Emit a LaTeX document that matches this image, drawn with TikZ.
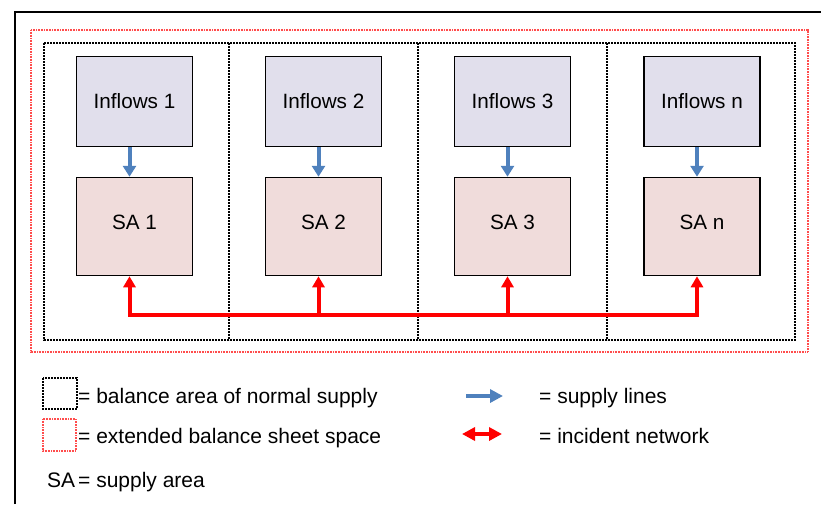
\documentclass[tikz,border=0pt]{standalone}
\usepackage{fontspec}
\setmainfont{Liberation Sans}
\usetikzlibrary{arrows.meta}
\definecolor{inflowfill}{RGB}{225,223,236}
\definecolor{safill}{RGB}{240,220,219}
\definecolor{supplyblue}{RGB}{79,129,189}
\tikzset{
  txt/.style={font=\fontsize{20.7}{24}\selectfont},
  inbox/.style={draw=black, line width=1.5pt, fill=inflowfill, minimum width=116pt, minimum height=90pt, inner sep=0pt, txt},
  sabox/.style={draw=black, line width=1.5pt, fill=safill, minimum width=116pt, minimum height=98pt, inner sep=0pt, txt, text height=14.7pt, text depth=8pt},
  blackdash/.style={draw=black, line width=1.2pt, dash pattern=on 2pt off 1pt},
  reddot/.style={draw=red!70, line width=1.2pt, dash pattern=on 1pt off 0.6pt},
  supplyarrow/.style={draw=supplyblue, line width=4pt, -{Triangle[width=13pt,length=11pt]}},
  netline/.style={draw=red, line width=4pt, line join=miter},
  nettip/.style={-{Triangle[width=12pt,length=11pt]}},
  legtxt/.style={font=\fontsize{21}{24}\selectfont, anchor=base west, inner sep=0pt},
}
\begin{document}
\begin{tikzpicture}[x=1pt,y=-1pt]
\useasboundingbox (0,0) rectangle (821,504);
% outer frame (only top and left visible)
\draw[line width=1.7pt] (15,504) -- (15,12) -- (821,12);
% extended balance sheet space
\draw[reddot] (31,30) rectangle (808,352);
% balance area of normal supply
\draw[blackdash] (44,43) rectangle (795,340);
\foreach \x in {229,418,607} \draw[blackdash] (\x,43) -- (\x,340);
% boxes
\node[inbox] (in1) at (134.5,101.5) {Inflows 1};
\node[inbox] (in2) at (323.5,101.5) {Inflows 2};
\node[inbox] (in3) at (512.5,101.5) {Inflows 3};
\node[inbox] (inn) at (702,101.5) {Inflows n};
\node[sabox] (sa1) at (134.5,226.5) {SA 1};
\node[sabox] (sa2) at (323.5,226.5) {SA 2};
\node[sabox] (sa3) at (512.5,226.5) {SA 3};
\node[sabox] (san) at (702,226.5) {SA n};
% supply lines
\foreach \a/\b in {in1/sa1,in2/sa2,in3/sa3,inn/san}
  \draw[supplyarrow] ([xshift=-5pt]\a.south) -- ([xshift=-5pt]\b.north);
% incident network
\coordinate (bus) at (410,315);
\draw[netline, {Triangle[width=12pt,length=11pt]}-{Triangle[width=12pt,length=11pt]}]
  ([xshift=-5pt]sa1.south) |- (bus) -| ([xshift=-5pt]san.south);
\draw[netline, nettip] ([xshift=-5pt]sa2.south |- bus) -- ([xshift=-5pt]sa2.south);
\draw[netline, nettip] ([xshift=-5pt]sa3.south |- bus) -- ([xshift=-5pt]sa3.south);
% legend
\draw[blackdash] (43,378) rectangle (77,409);
\node[legtxt] (l1) at (78,403) {= balance area of normal supply};
\draw[reddot] (43,419) rectangle (76,451);
\node[legtxt] (l2) at (78,443) {= extended balance sheet space};
\node[legtxt] (l3a) at (47,487) {SA};
\node[legtxt] (l3) at (78,487) {= supply area};
\coordinate (b1) at (466,396);
\coordinate (b2) at (503,396);
\draw[supplyarrow, -{Triangle[width=13pt,length=13pt]}] (b1) -- (b2);
\node[legtxt] (l4) at (539,403) {= supply lines};
\coordinate (r1) at (462,434);
\coordinate (r2) at (502,434);
\draw[netline, {Triangle[width=13pt,length=13pt]}-{Triangle[width=13pt,length=13pt]}] (r1) -- (r2);
\node[legtxt] (l5) at (539,443) {= incident network};
\end{tikzpicture}
\end{document}
